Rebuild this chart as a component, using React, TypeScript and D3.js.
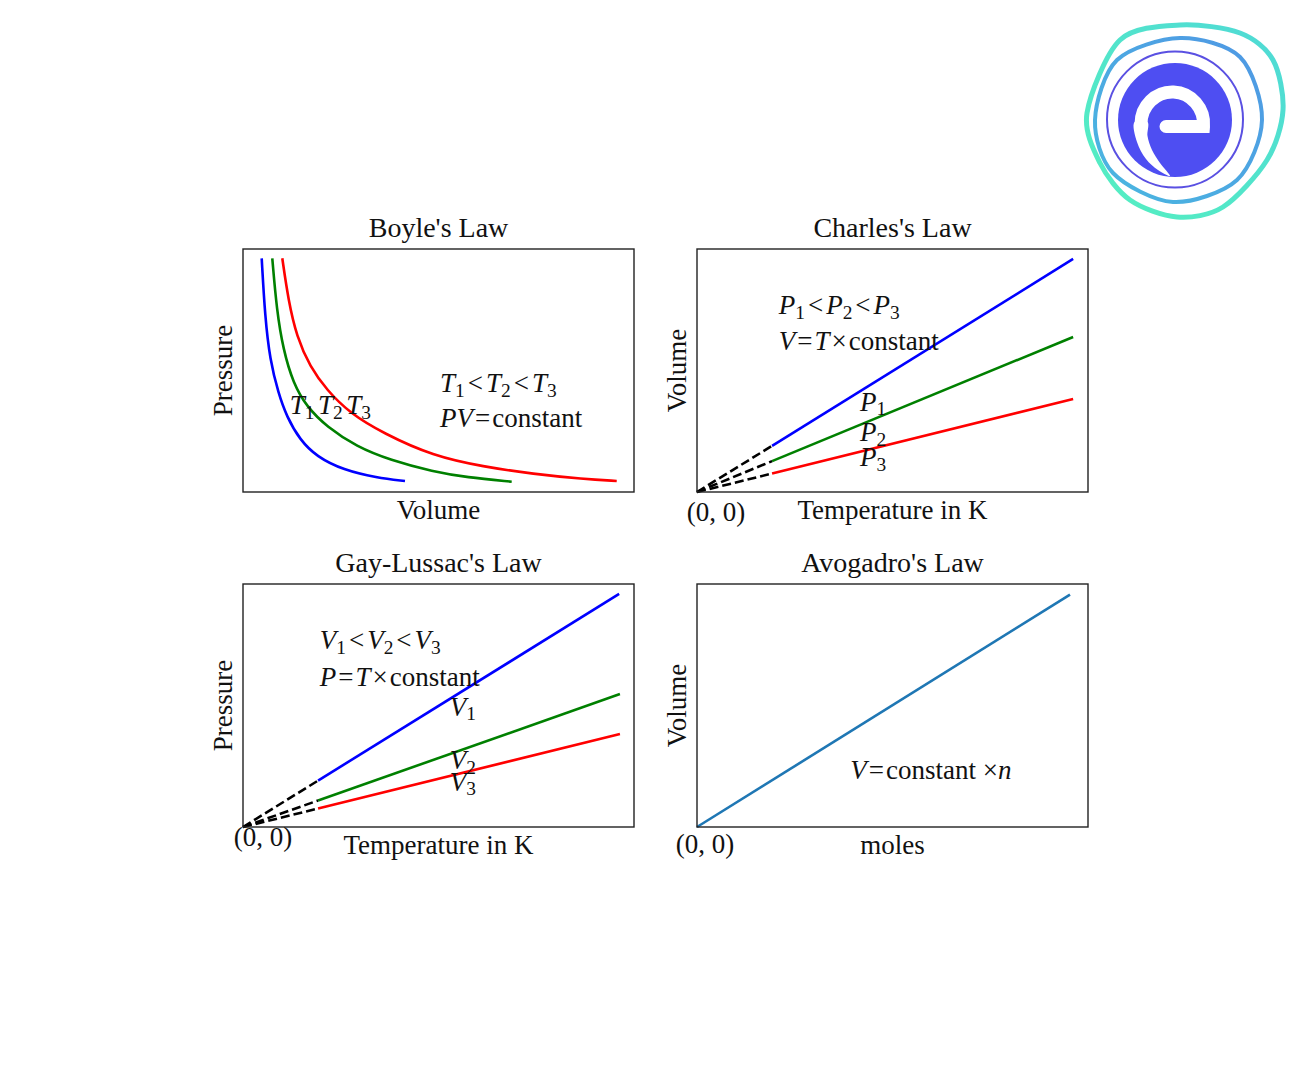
import React from 'react';
import * as d3 from 'd3';

const FONT = '"Liberation Serif", "Times New Roman", serif';
const FS = 27;

// ---------- data (axes run 0..10 in both directions) ----------
// Boyle's law: [Volume, Pressure]
const boyleT1: [number, number][] = [
  [0.478, 9.617], [0.563, 7.214], [0.69, 5.432], [0.903, 4.074], [1.118, 3.099],
  [1.458, 2.14], [1.885, 1.453], [2.565, 0.905], [3.419, 0.588], [4.143, 0.453],
];
const boyleT2: [number, number][] = [
  [0.749, 9.617], [0.862, 7.49], [1.031, 5.844], [1.286, 4.473], [1.629, 3.51],
  [2.141, 2.687], [2.908, 1.864], [3.76, 1.317], [4.867, 0.835], [5.721, 0.605], [6.872, 0.424],
];
const boyleT3: [number, number][] = [
  [1.005, 9.617], [1.159, 7.901], [1.373, 6.391], [1.714, 5.156], [2.141, 4.198],
  [2.737, 3.239], [3.588, 2.416], [4.859, 1.481], [6.146, 1.041], [7.425, 0.741],
  [8.703, 0.535], [9.558, 0.453],
];

// Charles's law: [Temperature, Volume]
const charlesP1: [number, number][] = [[0, 0], [1.92, 1.9], [9.62, 9.59]];
const charlesP2: [number, number][] = [[0, 0], [1.92, 1.27], [9.62, 6.38]];
const charlesP3: [number, number][] = [[0, 0], [1.92, 0.76], [9.62, 3.83]];
const charlesDashEnd = 1.92;

// Gay-Lussac's law: [Temperature, Pressure]
const gayV1: [number, number][] = [[0, 0], [1.92, 1.91], [9.62, 9.59]];
const gayV2: [number, number][] = [[0, 0], [1.92, 1.09], [9.64, 5.47]];
const gayV3: [number, number][] = [[0, 0], [1.92, 0.76], [9.64, 3.83]];
const gayDashEnd = 1.92;

// Avogadro's law: [moles, Volume]
const avogadro: [number, number][] = [[0, 0], [9.54, 9.56]];

const seriesColors = ['#0000ff', '#008000', '#ff0000'];
const avogadroColor = '#1f77b4';

const titles = ["Boyle's Law", "Charles's Law", "Gay-Lussac's Law", "Avogadro's Law"];
const xLabels = ['Volume', 'Temperature in K', 'Temperature in K', 'moles'];
const yLabels = ['Pressure', 'Volume', 'Pressure', 'Volume'];

type Box = { x: number; y: number; w: number; h: number };
const boxes: Box[] = [
  { x: 243, y: 249, w: 391, h: 243 },
  { x: 697, y: 249, w: 391, h: 243 },
  { x: 243, y: 584, w: 391, h: 243 },
  { x: 697, y: 584, w: 391, h: 243 },
];

type Seg = { t: string; i?: boolean; sub?: boolean; dx?: number };

function MathText({ x, y, segs }: { x: number; y: number; segs: Seg[] }) {
  const out: React.ReactNode[] = [];
  let shifted = false;
  segs.forEach((s, k) => {
    let dy = 0;
    if (s.sub && !shifted) { dy = 4.5; shifted = true; }
    else if (!s.sub && shifted) { dy = -4.5; shifted = false; }
    out.push(
      <tspan key={k} dy={dy || undefined} dx={s.dx || undefined}
        fontStyle={s.i ? 'italic' : 'normal'} fontSize={s.sub ? FS * 0.72 : FS}>{s.t}</tspan>
    );
  });
  return <text x={x} y={y} fontFamily={FONT} fontSize={FS} fill="#111">{out}</text>;
}

function scalesFor(b: Box) {
  const x = d3.scaleLinear().domain([0, 10]).range([b.x, b.x + b.w]);
  const y = d3.scaleLinear().domain([0, 10]).range([b.y + b.h, b.y]);
  return { x, y };
}

function Logo() {
  const outer: [number, number][] = [
    [1180, 25], [1240, 33], [1273, 60], [1283, 110], [1267, 160], [1223, 207],
    [1177, 217], [1130, 200], [1100, 163], [1087, 113], [1120, 40],
  ];
  const middle: [number, number][] = [
    [1180, 38], [1240, 57], [1262, 120], [1237, 180], [1173, 202], [1113, 173],
    [1095, 120], [1117, 60],
  ];
  const closed = d3.line().curve(d3.curveCardinalClosed.tension(0.1));
  const tailShape: [number, number][] = [
    [1134.5, 122], [1137, 142], [1146, 159], [1158, 170], [1170, 176],
    [1160, 163], [1152, 150], [1147.5, 136], [1147.5, 122],
  ];
  const tail = d3.line().curve(d3.curveCatmullRomClosed)(tailShape) || '';
  return (
    <g>
      <defs>
        <linearGradient id="lgOuter" x1="0" y1="1" x2="1" y2="0">
          <stop offset="0" stopColor="#55f0c0" />
          <stop offset="1" stopColor="#4fd9d6" />
        </linearGradient>
        <linearGradient id="lgMid" x1="0" y1="1" x2="1" y2="0">
          <stop offset="0" stopColor="#4ab8e0" />
          <stop offset="1" stopColor="#4f97e4" />
        </linearGradient>
      </defs>
      <path d={closed(outer) || ''} fill="none" stroke="url(#lgOuter)" strokeWidth={5} />
      <path d={closed(middle) || ''} fill="none" stroke="url(#lgMid)" strokeWidth={4} />
      <circle cx={1175} cy={119.5} r={68} fill="none" stroke="#5a50e2" strokeWidth={2} />
      <circle cx={1175} cy={120} r={57} fill="#4e4ef2" />
      <path d="M1166,126.5 L1203.5,126.5 A31.3,32 0 1 0 1141,124" fill="none" stroke="#fff"
        strokeWidth={13} strokeLinecap="round" />
      <path d={tail} fill="#fff" />
    </g>
  );
}

export default function App() {
  const line = (sx: d3.ScaleLinear<number, number>, sy: d3.ScaleLinear<number, number>, curve: d3.CurveFactory = d3.curveLinear) =>
    d3.line<[number, number]>().x(d => sx(d[0])).y(d => sy(d[1])).curve(curve);

  const s0 = scalesFor(boxes[0]);
  const s1 = scalesFor(boxes[1]);
  const s2 = scalesFor(boxes[2]);
  const s3 = scalesFor(boxes[3]);

  const boyle = [boyleT1, boyleT2, boyleT3];
  const charles = [charlesP1, charlesP2, charlesP3];
  const gay = [gayV1, gayV2, gayV3];

  const split = (d: [number, number][], cut: number) => ({
    dash: d.filter(p => p[0] <= cut),
    solid: d.filter(p => p[0] >= cut),
  });

  const b0 = boxes[0], b1 = boxes[1], b2 = boxes[2], b3 = boxes[3];
  const zeroOffsets = [null, { dx: 19, dy: 29 }, { dx: 20, dy: 19 }, { dx: 8, dy: 26 }];

  return (
    <svg width={1302} height={1084} style={{ position: 'absolute', left: 0, top: 0, background: '#fff' }}>
      <rect x={0} y={0} width={1302} height={1084} fill="#fff" />
      <Logo />

      {/* Boyle curves */}
      {boyle.map((d, k) => (
        <path key={'b' + k} d={line(s0.x, s0.y, d3.curveBasis)(d) || ''} fill="none"
          stroke={seriesColors[k]} strokeWidth={2.6} />
      ))}

      {/* Charles lines */}
      {charles.map((d, k) => {
        const p = split(d, charlesDashEnd);
        return (
          <g key={'c' + k}>
            <path d={line(s1.x, s1.y)(p.solid) || ''} fill="none" stroke={seriesColors[k]} strokeWidth={2.6} />
            <path d={line(s1.x, s1.y)(p.dash) || ''} fill="none" stroke="#000" strokeWidth={2.6} strokeDasharray="9,4" />
          </g>
        );
      })}

      {/* Gay-Lussac lines */}
      {gay.map((d, k) => {
        const p = split(d, gayDashEnd);
        return (
          <g key={'g' + k}>
            <path d={line(s2.x, s2.y)(p.solid) || ''} fill="none" stroke={seriesColors[k]} strokeWidth={2.6} />
            <path d={line(s2.x, s2.y)(p.dash) || ''} fill="none" stroke="#000" strokeWidth={2.6} strokeDasharray="9,4" />
          </g>
        );
      })}

      {/* Avogadro line */}
      <path d={line(s3.x, s3.y)(avogadro) || ''} fill="none" stroke={avogadroColor} strokeWidth={2.6} />

      {/* frames, titles, labels */}
      {boxes.map((b, k) => (
        <g key={'f' + k}>
          <rect x={b.x} y={b.y} width={b.w} height={b.h} fill="none" stroke="#222" strokeWidth={1.4} />
          <text x={b.x + b.w / 2} y={b.y - 12} textAnchor="middle" fontFamily={FONT} fontSize={FS + 1} fill="#111">{titles[k]}</text>
          <text x={b.x + b.w / 2} y={b.y + b.h + 27} textAnchor="middle" fontFamily={FONT} fontSize={FS} fill="#111">{xLabels[k]}</text>
          <text transform={`translate(${b.x - 11},${b.y + b.h / 2}) rotate(-90)`} textAnchor="middle"
            fontFamily={FONT} fontSize={FS} fill="#111">{yLabels[k]}</text>
          {zeroOffsets[k] && (
            <text x={b.x + zeroOffsets[k]!.dx} y={b.y + b.h + zeroOffsets[k]!.dy} textAnchor="middle"
              fontFamily={FONT} fontSize={FS} fill="#111">(0, 0)</text>
          )}
        </g>
      ))}

      {/* Boyle annotations */}
      <MathText x={b0.x + 197} y={b0.y + 143} segs={[
        { t: 'T', i: true }, { t: '1', sub: true }, { t: '<', dx: 3 }, { t: 'T', i: true, dx: 3 }, { t: '2', sub: true },
        { t: '<', dx: 3 }, { t: 'T', i: true, dx: 3 }, { t: '3', sub: true }]} />
      <MathText x={b0.x + 197} y={b0.y + 178} segs={[
        { t: 'PV', i: true }, { t: '=', dx: 2 }, { t: 'constant', dx: 2 }]} />
      <MathText x={b0.x + 46.7} y={b0.y + 165} segs={[{ t: 'T', i: true }, { t: '1', sub: true }]} />
      <MathText x={b0.x + 75} y={b0.y + 165} segs={[{ t: 'T', i: true }, { t: '2', sub: true }]} />
      <MathText x={b0.x + 103.3} y={b0.y + 165} segs={[{ t: 'T', i: true }, { t: '3', sub: true }]} />

      {/* Charles annotations */}
      <MathText x={b1.x + 81.7} y={b1.y + 65} segs={[
        { t: 'P', i: true }, { t: '1', sub: true }, { t: '<', dx: 3 }, { t: 'P', i: true, dx: 3 }, { t: '2', sub: true },
        { t: '<', dx: 3 }, { t: 'P', i: true, dx: 3 }, { t: '3', sub: true }]} />
      <MathText x={b1.x + 81.7} y={b1.y + 101} segs={[
        { t: 'V', i: true }, { t: '=', dx: 2 }, { t: 'T', i: true, dx: 2 }, { t: '×', dx: 2 }, { t: 'constant', dx: 2 }]} />
      <MathText x={b1.x + 163} y={b1.y + 161.7} segs={[{ t: 'P', i: true }, { t: '1', sub: true }]} />
      <MathText x={b1.x + 163} y={b1.y + 192} segs={[{ t: 'P', i: true }, { t: '2', sub: true }]} />
      <MathText x={b1.x + 163} y={b1.y + 217} segs={[{ t: 'P', i: true }, { t: '3', sub: true }]} />

      {/* Gay-Lussac annotations */}
      <MathText x={b2.x + 76.7} y={b2.y + 65} segs={[
        { t: 'V', i: true }, { t: '1', sub: true }, { t: '<', dx: 3 }, { t: 'V', i: true, dx: 3 }, { t: '2', sub: true },
        { t: '<', dx: 3 }, { t: 'V', i: true, dx: 3 }, { t: '3', sub: true }]} />
      <MathText x={b2.x + 76.7} y={b2.y + 101.7} segs={[
        { t: 'P', i: true }, { t: '=', dx: 2 }, { t: 'T', i: true, dx: 2 }, { t: '×', dx: 2 }, { t: 'constant', dx: 2 }]} />
      <MathText x={b2.x + 206.7} y={b2.y + 131.7} segs={[{ t: 'V', i: true }, { t: '1', sub: true }]} />
      <MathText x={b2.x + 206.7} y={b2.y + 185} segs={[{ t: 'V', i: true }, { t: '2', sub: true }]} />
      <MathText x={b2.x + 206.7} y={b2.y + 206.7} segs={[{ t: 'V', i: true }, { t: '3', sub: true }]} />

      {/* Avogadro annotation */}
      <MathText x={b3.x + 153.3} y={b3.y + 195} segs={[
        { t: 'V', i: true }, { t: '=', dx: 2 }, { t: 'constant', dx: 2 }, { t: ' ×' }, { t: 'n', i: true }]} />
    </svg>
  );
}
